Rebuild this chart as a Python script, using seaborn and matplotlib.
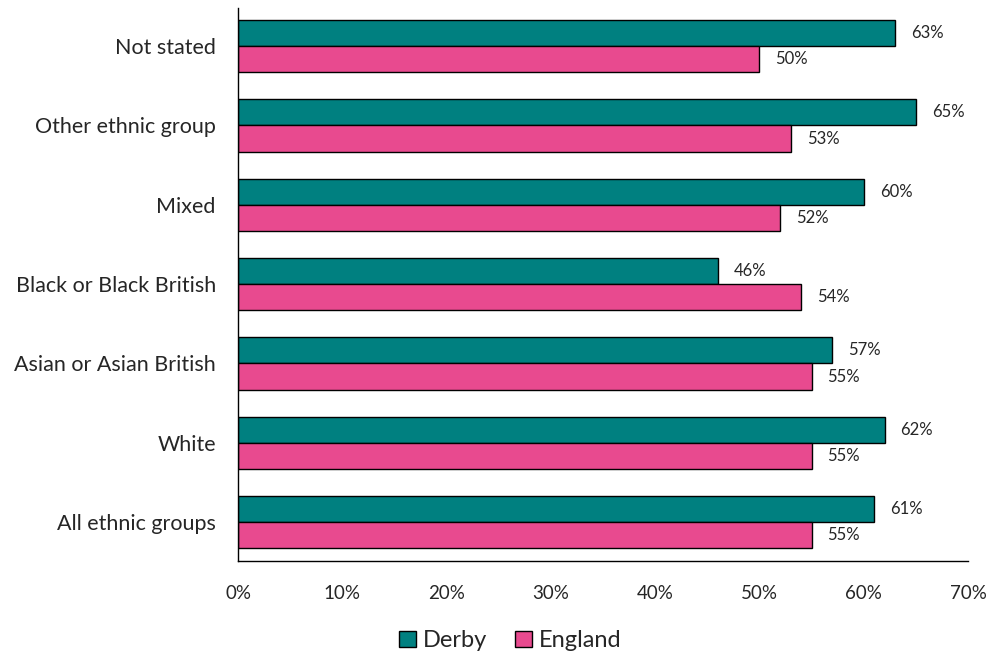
import seaborn as sns
import matplotlib.pyplot as plt
import pandas as pd

# data
groups = ['Not stated', 'Other ethnic group', 'Mixed', 'Black or Black British',
          'Asian or Asian British', 'White', 'All ethnic groups']
derby = [63, 65, 60, 46, 57, 62, 61]
england = [50, 53, 52, 54, 55, 55, 55]
areas = ['Derby', 'England']
colours = ['#008080', '#E84A8F']

df = pd.DataFrame({'group': groups * 2,
                   'area': ['Derby'] * len(groups) + ['England'] * len(groups),
                   'value': derby + england})

sns.set_style('white')
plt.rcParams['font.family'] = ['Lato', 'DejaVu Sans']

fig = plt.figure(figsize=(9.89, 6.56), dpi=100)
ax = fig.add_axes([0.2407, 0.1448, 0.7381, 0.843])

sns.barplot(data=df, x='value', y='group', hue='area', order=groups, hue_order=areas,
            palette=colours, saturation=1, orient='h', width=0.66, edgecolor='black',
            linewidth=1, ax=ax, legend=False)

# value labels
for cont in ax.containers:
    ax.bar_label(cont, labels=[f'{v:.0f}%' for v in cont.datavalues], padding=11.5, fontsize=12)

ax.set_xlim(0, 70)
ax.set_ylim(6.49, -0.48)
ax.set_xticks(range(0, 71, 10))
ax.set_xticklabels([f'{t}%' for t in range(0, 71, 10)], fontsize=13.5)
ax.tick_params(axis='y', labelsize=15.5, length=0, pad=16)
ax.tick_params(axis='x', length=0, pad=17)
ax.set_xlabel('')
ax.set_ylabel('')
for s in ['top', 'right']:
    ax.spines[s].set_visible(False)
for s in ['left', 'bottom']:
    ax.spines[s].set_color('black')
    ax.spines[s].set_linewidth(1)

handles = [plt.Rectangle((0, 0), 1, 1, facecolor=c, edgecolor='black', linewidth=1) for c in colours]
fig.legend(handles, areas, loc='center', bbox_to_anchor=(0.516, 0.023), ncol=2, frameon=False,
           fontsize=17, handlelength=0.7, handleheight=0.7, handletextpad=0.3, columnspacing=1.2)

fig.savefig('out.png', dpi=100)
